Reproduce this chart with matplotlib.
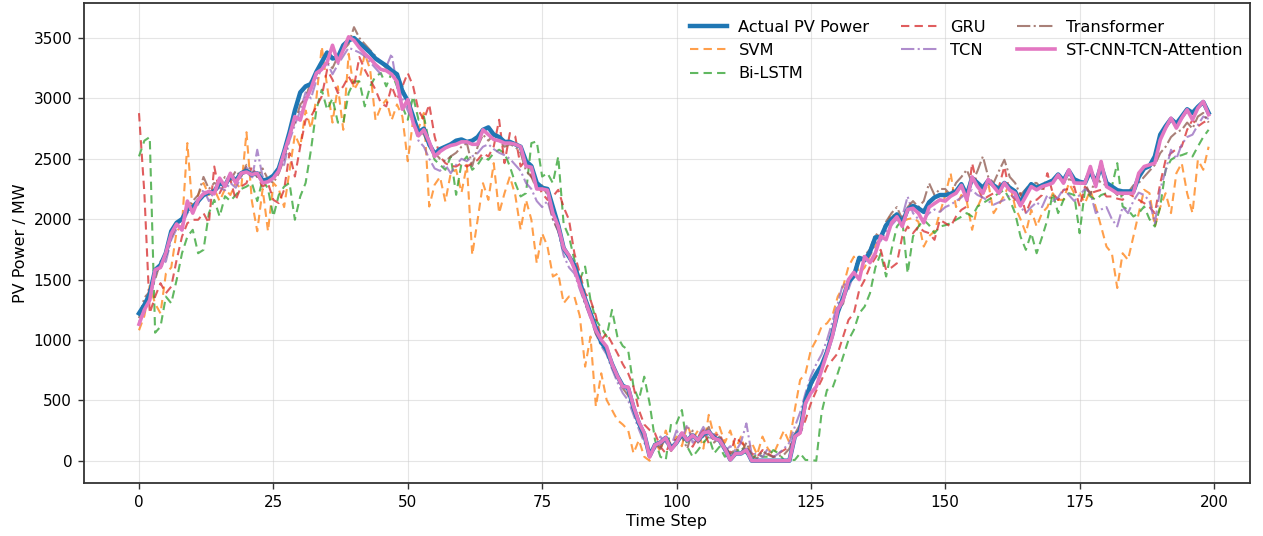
import matplotlib
matplotlib.use("Agg")
import matplotlib.pyplot as plt
import numpy as np

time_steps = list(range(200))

actual = [
    1220, 1290, 1380, 1580, 1620, 1720, 1900, 1970, 2000, 2080,
    2100, 2150, 2200, 2220, 2230, 2300, 2280, 2360, 2320, 2380,
    2400, 2370, 2380, 2320, 2330, 2360, 2420, 2560, 2720, 2900,
    3050, 3100, 3120, 3220, 3300, 3380, 3330, 3340, 3440, 3480,
    3500, 3460, 3420, 3380, 3330, 3300, 3270, 3230, 3200, 3060,
    2980, 2850, 2720, 2750, 2620, 2540, 2580, 2600, 2620, 2650,
    2660, 2640, 2650, 2680, 2740, 2760, 2700, 2680, 2640, 2640,
    2620, 2600, 2480, 2440, 2300, 2260, 2250, 2100, 1950, 1760,
    1690, 1620, 1480, 1340, 1220, 1100, 980, 920, 800, 700,
    620, 600, 440, 310, 220, 40, 130, 150, 190, 100,
    150, 220, 170, 210, 170, 220, 240, 190, 170, 100,
    10, 60, 60, 90, 0, 0, 0, 0, 0, 0,
    0, 0, 200, 250, 500, 640, 720, 790, 900, 1050,
    1230, 1350, 1480, 1530, 1680, 1660, 1730, 1850, 1850, 1950,
    2000, 2040, 1970, 2080, 2110, 2090, 2060, 2140, 2180, 2200,
    2200, 2210, 2230, 2290, 2200, 2340, 2300, 2260, 2320, 2280,
    2250, 2300, 2260, 2230, 2130, 2230, 2290, 2260, 2280, 2300,
    2320, 2370, 2320, 2400, 2330, 2310, 2300, 2400, 2300, 2440,
    2300, 2270, 2240, 2230, 2230, 2230, 2350, 2420, 2440, 2520,
    2700, 2770, 2830, 2790, 2850, 2910, 2880, 2930, 2970, 2880,
]

svm = [
    1080, 1200, 1450, 1300, 1220, 1550, 1600, 1900, 1950, 2630,
    2050, 2200, 2300, 2200, 2250, 2150, 2250, 2200, 2300, 2250,
    2720, 2150, 1900, 2250, 1900, 2300, 2250, 2100, 2400, 2700,
    2600, 2900, 2750, 3000, 3430, 3100, 2800, 3100, 2740, 3370,
    3070, 3150, 3370, 3240, 2820, 2930, 2990, 2820, 2950, 2850,
    2480, 2820, 2750, 2880, 2105, 2285, 2350, 2146, 2381, 2409,
    2220, 2450, 1704, 1995, 2298, 2160, 2464, 2050, 2215, 2353,
    2200, 1912, 2160, 1995, 1635, 1884, 1773, 1525, 1552, 1304,
    1360, 1359, 1200, 779, 1028, 448, 724, 503, 420, 337,
    300, 254, 61, 171, 33, 0, 150, 80, 250, 120,
    200, 120, 300, 180, 250, 100, 380, 200, 280, 150,
    250, 100, 200, 60, 150, 50, 200, 100, 50, 150,
    250, 150, 420, 669, 724, 917, 1000, 1111, 1138, 1200,
    1359, 1442, 1608, 1690, 1552, 1600, 1700, 1780, 1850, 1950,
    2050, 2000, 1980, 2000, 2010, 1980, 1773, 1860, 1900, 2050,
    2200, 2381, 2100, 2200, 2150, 1912, 2100, 2200, 2300, 2050,
    2120, 2200, 2300, 2100, 2000, 1884, 2077, 1939, 2050, 2100,
    2215, 2160, 2160, 2298, 2215, 2215, 2133, 2243, 2100, 1939,
    1773, 1718, 1430, 1718, 1663, 1856, 2050, 2243, 2215, 1939,
    2100, 2215, 2050, 2381, 2464, 2215, 2050, 2492, 2409, 2600,
]

bilstm = [
    2520, 2650, 2680, 1060, 1110, 1359, 1304, 1497, 1718, 1856,
    1912, 1718, 1746, 2050, 2160, 2022, 2190, 2150, 2200, 2250,
    2270, 2300, 2150, 2330, 2250, 2022, 2200, 2270, 2300, 1995,
    2188, 2300, 2575, 2906, 3072, 2906, 3000, 2800, 2796, 3044,
    3141, 3141, 2934, 3100, 3182, 3210, 3100, 3210, 3100, 2934,
    2823, 3017, 2823, 2851, 2630, 2492, 2450, 2409, 2519, 2202,
    2464, 2519, 2409, 2450, 2519, 2492, 2547, 2575, 2547, 2436,
    2300, 2188, 2215, 2630, 2644, 2353, 2381, 2298, 2519, 1960,
    1856, 1663, 1497, 1608, 1331, 1166, 1100, 1028, 1249, 1028,
    950, 917, 613, 503, 696, 475, 171, 33, 6, 309,
    309, 420, 116, 33, 88, 150, 199, 61, 116, 33,
    61, 61, 116, 61, 6, 61, 33, 33, 88, 61,
    6, 6, 6, 61, 6, 6, 0, 400, 586, 600,
    724, 862, 1000, 1083, 1221, 1276, 1387, 1600, 1718, 1525,
    1746, 1939, 1995, 1552, 1856, 1939, 1995, 1950, 1884, 1939,
    1950, 1967, 1995, 2020, 2050, 2022, 2105, 2133, 2160, 2188,
    2215, 2243, 2160, 2050, 1856, 1746, 1884, 1718, 1850, 1995,
    2215, 2050, 2160, 2215, 2200, 1884, 2243, 2188, 2160, 2200,
    2215, 2270, 2464, 2105, 2077, 2022, 2050, 2105, 2000, 1939,
    2105, 2409, 2492, 2519, 2530, 2547, 2519, 2602, 2680, 2740,
]

gru = [
    2878, 2215, 1221, 1359, 1470, 1387, 1442, 1663, 1856, 1967,
    1995, 1995, 2050, 1967, 2436, 2215, 2300, 2326, 2160, 2270,
    2298, 2436, 2353, 2270, 2298, 2160, 2133, 2243, 2547, 2353,
    2602, 2823, 2850, 2934, 3017, 3238, 3155, 3044, 3100, 3182,
    3100, 3343, 3238, 3155, 3072, 2961, 2934, 3100, 2989, 3100,
    3210, 3100, 2900, 2823, 2950, 2685, 2519, 2464, 2440, 2436,
    2464, 2436, 2464, 2490, 2547, 2519, 2602, 2823, 2464, 2713,
    2685, 2436, 2492, 2353, 2300, 2215, 2160, 2188, 2243, 2100,
    1995, 1718, 1552, 1387, 1331, 1200, 1000, 1055, 972, 890,
    800, 724, 613, 420, 300, 254, 227, 116, 61, 171,
    171, 227, 180, 116, 199, 254, 144, 200, 227, 116,
    61, 199, 150, 116, 61, 33, 88, 60, 33, 61,
    88, 116, 180, 227, 337, 475, 580, 669, 779, 834,
    890, 1028, 1166, 1221, 1414, 1497, 1608, 1680, 1746, 1580,
    1600, 1635, 1856, 1939, 1884, 1939, 1900, 1884, 1829, 1995,
    1967, 1939, 2022, 2077, 2105, 2464, 2270, 2160, 2190, 2215,
    2270, 2436, 2215, 2160, 2215, 2050, 2160, 2160, 2200, 2381,
    2215, 2160, 2243, 2250, 2270, 2105, 2270, 2215, 2230, 2243,
    2188, 2188, 2170, 2160, 2215, 2188, 2160, 2133, 2100, 2050,
    2298, 2492, 2547, 2580, 2602, 2740, 2823, 2768, 2800, 2823,
]

tcn = [
    1150, 1230, 1420, 1560, 1600, 1650, 1830, 1920, 1950, 2050,
    2100, 2120, 2250, 2150, 2230, 2260, 2240, 2300, 2260, 2350,
    2430, 2330, 2575, 2350, 2300, 2340, 2420, 2450, 2650, 2780,
    2900, 3050, 3000, 3150, 3250, 3300, 3200, 3280, 3350, 3420,
    3400, 3380, 3350, 3300, 3250, 3200, 3260, 3370, 3100, 3000,
    2900, 2800, 2650, 2600, 2500, 2420, 2400, 2450, 2380, 2450,
    2500, 2480, 2520, 2547, 2600, 2620, 2580, 2550, 2530, 2500,
    2450, 2400, 2300, 2250, 2150, 2100, 2150, 2000, 1900, 1700,
    1600, 1550, 1420, 1300, 1180, 1050, 950, 880, 760, 650,
    560, 500, 380, 260, 150, 80, 100, 200, 150, 120,
    250, 180, 300, 150, 200, 280, 180, 220, 150, 80,
    120, 80, 150, 309, 50, 60, 30, 100, 30, 60,
    100, 150, 280, 400, 560, 700, 800, 880, 1000, 1150,
    1300, 1470, 1420, 1550, 1700, 1650, 1700, 1800, 1820, 1900,
    1950, 2000, 2020, 2188, 2050, 2000, 2000, 2050, 2080, 2060,
    2100, 2120, 2150, 2180, 2220, 2240, 2200, 2180, 2150, 2120,
    2140, 2160, 2200, 2180, 2100, 2050, 2100, 2140, 2100, 2200,
    2150, 2180, 2250, 2200, 2150, 2200, 2250, 2220, 2050, 2080,
    2100, 2000, 1940, 2100, 2050, 2150, 2220, 2200, 2150, 1967,
    2250, 2400, 2575, 2500, 2620, 2680, 2700, 2780, 2850, 2830,
]

transformer = [
    1180, 1350, 1400, 1500, 1650, 1700, 1850, 1950, 2000, 2100,
    2150, 2200, 2350, 2250, 2300, 2280, 2350, 2320, 2400, 2350,
    2450, 2400, 2350, 2420, 2330, 2300, 2380, 2500, 2700, 2800,
    2950, 3000, 3150, 3200, 3250, 3300, 3250, 3350, 3400, 3450,
    3590, 3500, 3450, 3400, 3350, 3300, 3250, 3200, 3200, 3100,
    2950, 2800, 2750, 2700, 2600, 2550, 2500, 2480, 2520, 2550,
    2600, 2630, 2440, 2600, 2700, 2650, 2700, 2650, 2600, 2620,
    2600, 2550, 2400, 2350, 2250, 2280, 2200, 2000, 1900, 1750,
    1680, 1600, 1450, 1300, 1200, 1050, 980, 900, 780, 680,
    600, 540, 420, 300, 180, 60, 150, 100, 200, 80,
    150, 200, 100, 250, 150, 200, 280, 150, 200, 120,
    50, 100, 60, 150, 40, 20, 80, 50, 30, 40,
    50, 100, 220, 300, 500, 620, 700, 800, 920, 1080,
    1250, 1300, 1500, 1550, 1650, 1700, 1750, 1880, 1850, 1980,
    2050, 2100, 2000, 2100, 2150, 2100, 2150, 2298, 2200, 2250,
    2250, 2200, 2300, 2350, 2409, 2300, 2400, 2520, 2350, 2300,
    2400, 2492, 2350, 2300, 2200, 2250, 2300, 2300, 2250, 2300,
    2320, 2350, 2300, 2330, 2320, 2300, 2300, 2200, 2350, 2300,
    2280, 2250, 2200, 2200, 2220, 2280, 2300, 2350, 2400, 2450,
    2547, 2600, 2680, 2720, 2740, 2800, 2750, 2850, 2880, 2800,
]

proposed = [
    1130, 1250, 1330, 1580, 1600, 1720, 1880, 1960, 1910, 2150,
    2050, 2160, 2210, 2230, 2210, 2340, 2270, 2380, 2300, 2380,
    2390, 2370, 2380, 2300, 2310, 2340, 2400, 2550, 2690, 2850,
    2820, 2980, 3080, 3210, 3240, 3300, 3440, 3300, 3400, 3510,
    3480, 3420, 3370, 3330, 3280, 3240, 3230, 3200, 3140, 2910,
    2990, 2800, 2690, 2740, 2640, 2520, 2560, 2590, 2610, 2620,
    2640, 2640, 2620, 2620, 2740, 2700, 2660, 2650, 2630, 2630,
    2620, 2600, 2440, 2430, 2250, 2250, 2240, 2050, 1940, 1760,
    1700, 1590, 1450, 1330, 1200, 1080, 1000, 945, 800, 700,
    613, 610, 450, 320, 230, 30, 130, 150, 190, 90,
    150, 230, 170, 210, 170, 230, 240, 185, 170, 100,
    6, 60, 60, 90, 0, 0, 0, 0, 0, 0,
    0, 0, 200, 230, 475, 560, 613, 750, 890, 1030,
    1250, 1330, 1500, 1560, 1500, 1690, 1640, 1720, 1860, 1830,
    1970, 2020, 1940, 2080, 2090, 2050, 1970, 2100, 2130, 2160,
    2150, 2190, 2215, 2280, 2160, 2350, 2270, 2215, 2330, 2270,
    2215, 2300, 2240, 2215, 2110, 2190, 2270, 2243, 2270, 2284,
    2300, 2367, 2298, 2409, 2300, 2298, 2298, 2436, 2270, 2478,
    2270, 2243, 2215, 2215, 2215, 2215, 2381, 2436, 2450, 2464,
    2657, 2754, 2837, 2754, 2837, 2906, 2823, 2920, 2975, 2865,
]

x_ticks = [0, 25, 50, 75, 100, 125, 150, 175, 200]
y_ticks = [0, 500, 1000, 1500, 2000, 2500, 3000, 3500]

fig = plt.figure(figsize=(12.63, 5.36), dpi=100)
left_px, right_px, top_px, bottom_px = 84, 1250, 3, 482.7
ax = fig.add_axes([left_px / 1263, (536 - bottom_px) / 536,
                   (right_px - left_px) / 1263, (bottom_px - top_px) / 536])

ax.plot(time_steps, actual, color="#1f77b4", lw=3.2, label="Actual PV Power", zorder=3)
ax.plot(time_steps, svm, color="#ff7f0e", lw=1.5, ls=(0, (4, 2.5)), alpha=0.75, label="SVM")
ax.plot(time_steps, bilstm, color="#2ca02c", lw=1.5, ls=(0, (4, 2.5)), alpha=0.75, label="Bi-LSTM")
ax.plot(time_steps, gru, color="#d62728", lw=1.5, ls=(0, (4, 2.5)), alpha=0.75, label="GRU")
ax.plot(time_steps, tcn, color="#9467bd", lw=1.5, ls="-.", alpha=0.75, label="TCN")
ax.plot(time_steps, transformer, color="#8c564b", lw=1.5, ls="-.", alpha=0.75, label="Transformer")
ax.plot(time_steps, proposed, color="#e377c2", lw=2.6, label="ST-CNN-TCN-Attention", zorder=4)

ax.set_xlim((left_px - 139) / 5.375, (right_px - 139) / 5.375)
ax.set_ylim(-182, 3790)
ax.set_xticks(x_ticks)
ax.set_yticks(y_ticks)
ax.tick_params(labelsize=11, length=4.5, width=1.0, color="#333333", pad=4)
ax.grid(True, color="#cccccc", alpha=0.5, lw=0.8)
for s in ax.spines.values():
    s.set_color("#333333")
    s.set_linewidth(1.3)

ax.set_xlabel("Time Step", fontsize=11.5, labelpad=3)
ax.set_ylabel("PV Power / MW", fontsize=11.5)

ax.legend(loc="upper right", ncol=3, frameon=False, fontsize=11.7,
          handlelength=2.3, handletextpad=0.7, columnspacing=1.95,
          labelspacing=0.5, borderaxespad=0.0,
          bbox_to_anchor=(1.0, 0.978))

fig.savefig("out.png", dpi=100)
